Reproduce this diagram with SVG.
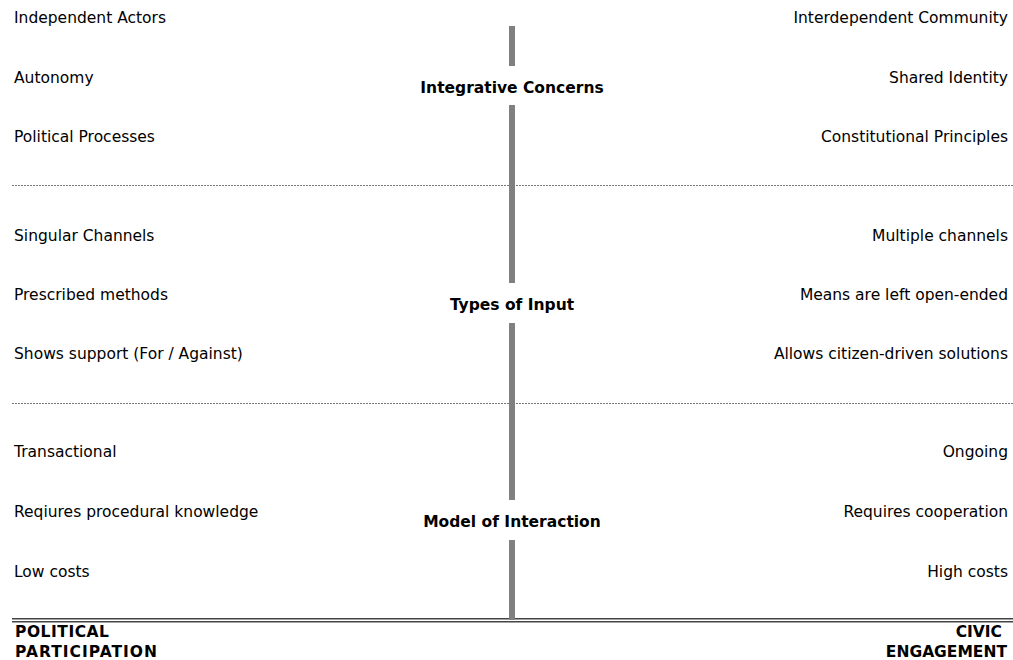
<svg xmlns="http://www.w3.org/2000/svg" width="1013" height="660" viewBox="0 0 1013 660">
  <style>
    text { font-family: "DejaVu Sans", Verdana, sans-serif; font-size: 15.5px; fill: #000; }
    .r { text-anchor: end; }
    .head { font-weight: bold; text-anchor: middle; }
    .pole { font-weight: bold; }
    .axis { fill: #808080; }
    .sep { stroke: #777; stroke-width: 1; stroke-dasharray: 2 1; }
    .base { stroke: #444; stroke-width: 1.6; }
  </style>
  <rect width="1013" height="660" fill="#fff"/>

  <!-- section separators and baseline -->
  <g id="connectors">
    <line class="sep" x1="12" y1="185.5" x2="1013" y2="185.5"/>
    <line class="sep" x1="12" y1="403.5" x2="1013" y2="403.5"/>
    <line class="base" x1="12" y1="618.7" x2="1013" y2="618.7"/>
    <line class="base" x1="12" y1="621.8" x2="1013" y2="621.8"/>
    <!-- central axis -->
    <rect class="axis" x="509" y="26" width="6" height="40"/>
    <rect class="axis" x="509" y="105" width="6" height="178"/>
    <rect class="axis" x="509" y="323" width="6" height="177"/>
    <rect class="axis" x="509" y="540" width="6" height="80"/>
  </g>

  <g id="integrative-concerns">
    <text class="head" x="512" y="93">Integrative Concerns</text>
    <text x="14" y="23">Independent Actors</text>
    <text x="14" y="83">Autonomy</text>
    <text x="14" y="142">Political Processes</text>
    <text class="r" x="1008" y="23">Interdependent Community</text>
    <text class="r" x="1008" y="83">Shared Identity</text>
    <text class="r" x="1008" y="142">Constitutional Principles</text>
  </g>

  <g id="types-of-input">
    <text class="head" x="512" y="310">Types of Input</text>
    <text x="14" y="241">Singular Channels</text>
    <text x="14" y="300">Prescribed methods</text>
    <text x="14" y="359">Shows support (For / Against)</text>
    <text class="r" x="1008" y="241">Multiple channels</text>
    <text class="r" x="1008" y="300">Means are left open-ended</text>
    <text class="r" x="1008" y="359">Allows citizen-driven solutions</text>
  </g>

  <g id="model-of-interaction">
    <text class="head" x="512" y="527">Model of Interaction</text>
    <text x="14" y="457">Transactional</text>
    <text x="14" y="517">Reqiures procedural knowledge</text>
    <text x="14" y="577">Low costs</text>
    <text class="r" x="1008" y="457">Ongoing</text>
    <text class="r" x="1008" y="517">Requires cooperation</text>
    <text class="r" x="1008" y="577">High costs</text>
  </g>

  <g id="political-participation">
    <text class="pole" x="15" y="637" textLength="94">POLITICAL</text>
    <text class="pole" x="15" y="657" textLength="142">PARTICIPATION</text>
  </g>

  <g id="civic-engagement">
    <text class="pole r" x="1002" y="637">CIVIC</text>
    <text class="pole r" x="1007" y="657">ENGAGEMENT</text>
  </g>
</svg>
